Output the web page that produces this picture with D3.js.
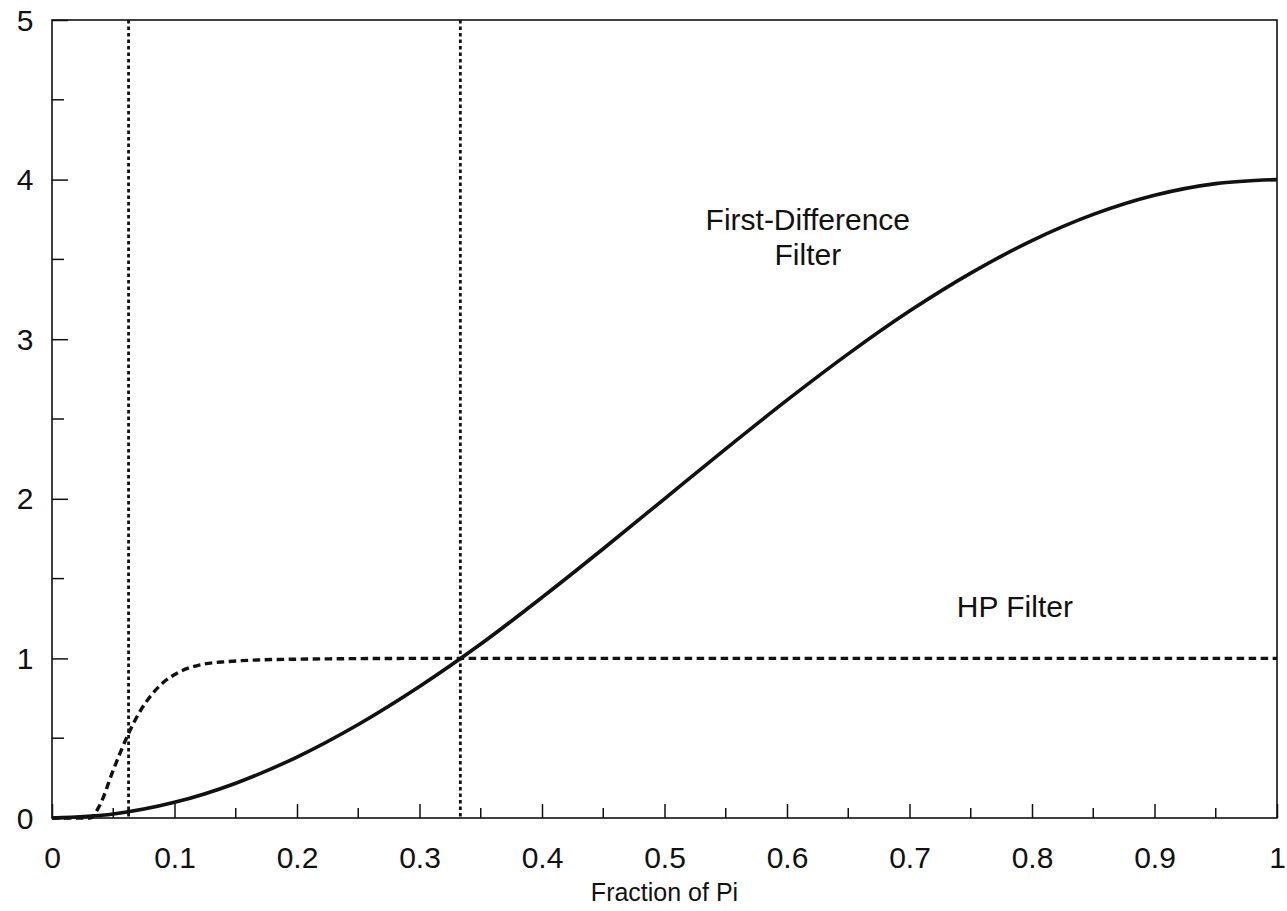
<!DOCTYPE html>
<html>
<head>
<meta charset="utf-8">
<script src="https://cdn.jsdelivr.net/npm/d3@7/dist/d3.min.js"></script>
<style>
  html, body { margin: 0; padding: 0; background: #fff; }
  svg { display: block; }
  text { font-family: "Liberation Sans", Arial, sans-serif; fill: #111; }
</style>
</head>
<body>
<svg id="chart" width="1287" height="911"></svg>
<script>
// Frequency as a fraction of pi
const fdX = [0, 0.05, 0.1, 0.15, 0.2, 0.25, 0.3, 0.35, 0.4, 0.45, 0.5,
             0.55, 0.6, 0.65, 0.7, 0.75, 0.8, 0.85, 0.9, 0.95, 1.0];
// Squared gain of the first-difference filter
const fdGain = [0, 0.025, 0.098, 0.218, 0.382, 0.586, 0.824, 1.09, 1.382, 1.687, 2.0,
                2.313, 2.618, 2.908, 3.176, 3.414, 3.618, 3.782, 3.902, 3.975, 4.0];

// Squared gain of the Hodrick-Prescott filter
const hpX = [0, 0.031, 0.039, 0.05, 0.0625, 0.072, 0.08, 0.091, 0.104, 0.121, 0.143,
             0.167, 0.2, 0.3, 0.4, 0.5, 0.6, 0.7, 0.8, 0.9, 1.0];
const hpGain = [0, 0, 0.08, 0.30, 0.53, 0.67, 0.76, 0.85, 0.915, 0.96, 0.98,
                0.99, 0.995, 1.0, 1.0, 1.0, 1.0, 1.0, 1.0, 1.0, 1.0];

// Business-cycle band limits (fraction of pi): 32 and 6 quarters
const bandLimits = [1 / 16, 1 / 3];

const xTickValues = [0, 0.1, 0.2, 0.3, 0.4, 0.5, 0.6, 0.7, 0.8, 0.9, 1];
const xTickLabels = ["0", "0.1", "0.2", "0.3", "0.4", "0.5", "0.6", "0.7", "0.8", "0.9", "1"];
const yTickValues = [0, 1, 2, 3, 4, 5];
const yTickLabels = ["0", "1", "2", "3", "4", "5"];

const annotations = [
  { lines: ["First-Difference", "Filter"], x: 0.617, y: 3.685 },
  { lines: ["HP Filter"], x: 0.786, y: 1.26 }
];

const svg = d3.select("#chart");
const margin = { left: 52, right: 10, top: 20, bottom: 93 };
const W = +svg.attr("width"), H = +svg.attr("height");
const x = d3.scaleLinear().domain([0, 1]).range([margin.left, W - margin.right]);
const y = d3.scaleLinear().domain([0, 5]).range([H - margin.bottom, margin.top]);

const ink = "#111";

// Frame
svg.append("rect")
  .attr("x", x(0)).attr("y", y(5))
  .attr("width", x(1) - x(0)).attr("height", y(0) - y(5))
  .attr("fill", "none").attr("stroke", ink).attr("stroke-width", 1.6);

// Bottom axis: major ticks every 0.1, minor every 0.05, pointing inward
const xMinor = d3.range(0.05, 1, 0.1);
const xAxis = d3.axisBottom(x).tickValues(xTickValues)
  .tickSize(-14)
  .tickFormat((d, i) => xTickLabels[i]);
const gx = svg.append("g").attr("transform", `translate(0,${y(0)})`).call(xAxis);
gx.select(".domain").remove();
gx.selectAll(".tick line").attr("stroke", ink).attr("stroke-width", 1.5);
gx.selectAll(".tick text")
  .attr("y", 50).attr("dy", 0)
  .attr("font-size", 30).attr("fill", ink);
gx.selectAll(".minor").data(xMinor).enter().append("line")
  .attr("class", "minor")
  .attr("x1", d => x(d)).attr("x2", d => x(d))
  .attr("y1", 0).attr("y2", -10)
  .attr("stroke", ink).attr("stroke-width", 1.5);

// Left axis: major ticks every 1, minor every 0.5, pointing inward
const yMinor = d3.range(0.5, 5, 1);
const yAxis = d3.axisLeft(y).tickValues(yTickValues)
  .tickSize(-16)
  .tickFormat((d, i) => yTickLabels[i]);
const gy = svg.append("g").attr("transform", `translate(${x(0)},0)`).call(yAxis);
gy.select(".domain").remove();
gy.selectAll(".tick line").attr("stroke", ink).attr("stroke-width", 1.5);
gy.selectAll(".tick text")
  .attr("x", -27).attr("dy", 10)
  .attr("font-size", 30).attr("text-anchor", "middle").attr("fill", ink);
gy.selectAll(".minor").data(yMinor).enter().append("line")
  .attr("class", "minor")
  .attr("x1", 0).attr("x2", 12)
  .attr("y1", d => y(d)).attr("y2", d => y(d))
  .attr("stroke", ink).attr("stroke-width", 1.5);

// Axis title
svg.append("text")
  .attr("x", x(0.5)).attr("y", 901)
  .attr("text-anchor", "middle").attr("font-size", 25)
  .text("Fraction of Pi");

// Vertical band limits
svg.selectAll(".band").data(bandLimits).enter().append("line")
  .attr("class", "band")
  .attr("x1", d => x(d)).attr("x2", d => x(d))
  .attr("y1", y(5)).attr("y2", y(0))
  .attr("stroke", ink).attr("stroke-width", 2.8)
  .attr("stroke-dasharray", "3.5,3");

const line = d3.line().curve(d3.curveMonotoneX);

// HP filter (dashed)
svg.append("path")
  .attr("d", line(hpX.map((v, i) => [x(v), y(hpGain[i])])))
  .attr("fill", "none").attr("stroke", ink).attr("stroke-width", 3.4)
  .attr("stroke-dasharray", "7.5,4.5");

// First-difference filter (solid)
svg.append("path")
  .attr("d", line(fdX.map((v, i) => [x(v), y(fdGain[i])])))
  .attr("fill", "none").attr("stroke", ink).attr("stroke-width", 3.6);

// Curve labels
annotations.forEach(a => {
  const t = svg.append("text")
    .attr("x", x(a.x)).attr("y", y(a.y))
    .attr("text-anchor", "middle").attr("font-size", 30);
  a.lines.forEach((s, i) => {
    t.append("tspan").attr("x", x(a.x)).attr("dy", i === 0 ? 0 : 35).text(s);
  });
});
</script>
</body>
</html>
